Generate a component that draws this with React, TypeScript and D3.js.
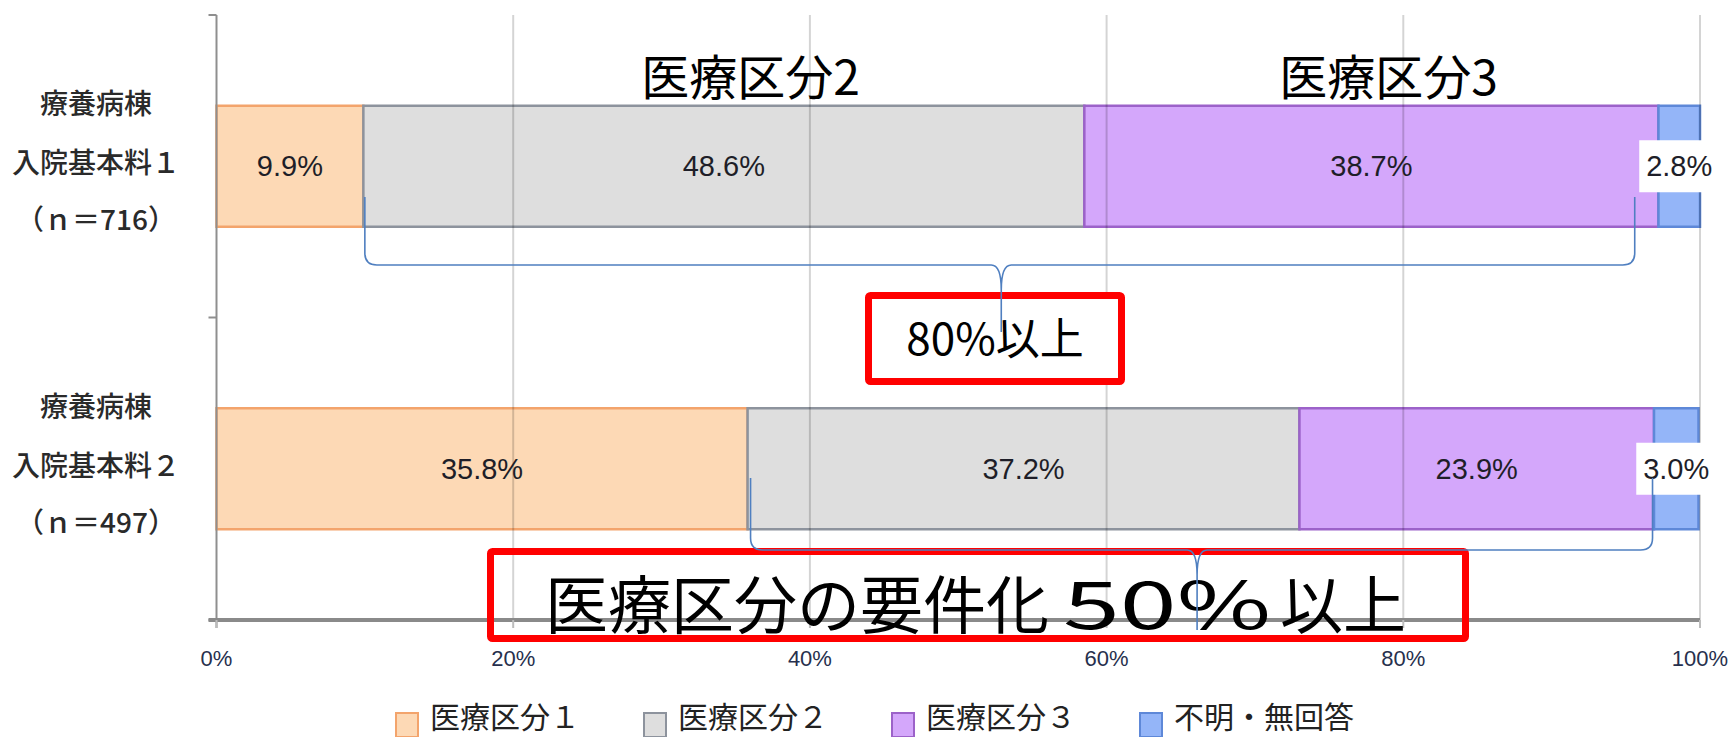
import React from "react";
import * as d3 from "d3";

const W = 1734;
const H = 737;
const MARGIN = { top: 15, right: 34, bottom: 117, left: 216.5 };

const CATEGORIES = ["row1", "row2"];
const CATEGORY_LINES = [
  ["療養病棟", "入院基本料１", "（ｎ＝716）"],
  ["療養病棟", "入院基本料２", "（ｎ＝497）"],
];
const SERIES = ["医療区分１", "医療区分２", "医療区分３", "不明・無回答"];
const VALUES = [
  [9.9, 48.6, 38.7, 2.8],
  [35.8, 37.2, 23.9, 3.0],
];
const X_TICKS = [0, 20, 40, 60, 80, 100];

const FILLS = ["#FDD9B5", "#DEDEDE", "#D4A7FB", "#94B5F8"];
const STROKES = ["#F3A46C", "#8D939D", "#9C62C9", "#5E88D8"];

// annotation positions, in percent along the x axis
const HEADERS = [
  { label: "医療区分2", at: 36 },
  { label: "医療区分3", at: 79 },
];
const BRACES = [
  { from: 10.0, to: 95.6, tip: 52.9, top: 197, mid: 265, end: 332 },
  { from: 36.0, to: 96.8, tip: 66.1, top: 478, mid: 550, end: 630 },
];

const JP = "'Noto Sans CJK JP', 'Noto Sans', sans-serif";
const NUM = "'Liberation Sans', Arial, sans-serif";

function bracePath(xl: number, xr: number, xm: number, yTop: number, yMid: number, yEnd: number) {
  const p = d3.path();
  const r = 12;
  const r2 = 10;
  p.moveTo(xl, yTop);
  p.lineTo(xl, yMid - r);
  p.quadraticCurveTo(xl, yMid, xl + r, yMid);
  p.lineTo(xm - r2, yMid);
  p.quadraticCurveTo(xm, yMid, xm, yMid + 25);
  p.lineTo(xm, yEnd);
  p.moveTo(xm, yMid + 25);
  p.quadraticCurveTo(xm, yMid, xm + r2, yMid);
  p.lineTo(xr - r, yMid);
  p.quadraticCurveTo(xr, yMid, xr, yMid - r);
  p.lineTo(xr, yTop);
  return p.toString();
}

export default function App() {
  const x0 = MARGIN.left;
  const x1 = W - MARGIN.right;
  const y0 = MARGIN.top;
  const y1 = H - MARGIN.bottom;

  const xScale = d3.scaleLinear().domain([0, 100]).range([x0, x1]);
  const yScale = d3
    .scaleBand()
    .domain(CATEGORIES)
    .range([y0, y1])
    .paddingInner(0.6)
    .paddingOuter(0.3);
  const bw = yScale.bandwidth();

  const stacked = VALUES.map((row) => {
    let acc = 0;
    return row.map((v) => {
      const s = acc;
      acc += v;
      return { start: s, end: acc, value: v };
    });
  });

  return (
    <svg
      width={W}
      height={H}
      style={{ position: "absolute", left: 0, top: 0, background: "#fff" }}
    >
      {/* bars */}
      {stacked.map((row, i) =>
        row.map((seg, j) => (
          <rect
            key={`b${i}-${j}`}
            x={xScale(seg.start)}
            y={yScale(CATEGORIES[i])}
            width={xScale(seg.end) - xScale(seg.start)}
            height={bw}
            fill={FILLS[j]}
            stroke={STROKES[j]}
            strokeWidth={2.5}
          />
        ))
      )}

      {/* gridlines */}
      {X_TICKS.slice(1).map((t) => (
        <line
          key={`g${t}`}
          x1={xScale(t)}
          x2={xScale(t)}
          y1={y0}
          y2={y1}
          stroke="#000"
          strokeOpacity={0.17}
          strokeWidth={2}
        />
      ))}

      {/* axes */}
      <line x1={x0} x2={x0} y1={y0} y2={y1 + 8} stroke="#8f8f8f" strokeWidth={2} />
      {[y0, y0 + yScale.step(), y1].map((y, i) => (
        <line key={`yt${i}`} x1={x0 - 8} x2={x0} y1={y} y2={y} stroke="#8f8f8f" strokeWidth={2} />
      ))}
      <line x1={x0 - 8} x2={x1} y1={y1} y2={y1} stroke="#8a8a8a" strokeWidth={4} />
      {X_TICKS.map((t) => (
        <g key={`xt${t}`}>
          <line x1={xScale(t)} x2={xScale(t)} y1={y1} y2={y1 + 8} stroke="#bcbcbc" strokeWidth={2} />
          <text
            x={xScale(t)}
            y={658}
            textAnchor="middle"
            dominantBaseline="central"
            fontFamily={NUM}
            fontSize={22}
            fill="#27304d"
          >
            {t}%
          </text>
        </g>
      ))}

      {/* category labels */}
      {CATEGORY_LINES.map((lines, i) => {
        const cy = (yScale(CATEGORIES[i]) as number) + bw / 2;
        return lines.map((ln, k) => (
          <text
            key={`c${i}-${k}`}
            x={96}
            y={cy + [-64, -5, 52][k]}
            textAnchor="middle"
            dominantBaseline="central"
            fontFamily={JP}
            fontSize={28}
            fontWeight={500}
            fill="#2a2a2a"
          >
            {ln}
          </text>
        ));
      })}

      {/* data labels */}
      {stacked.map((row, i) =>
        row.map((seg, j) => {
          const cx = (xScale(seg.start) + xScale(seg.end)) / 2;
          const cy = (yScale(CATEGORIES[i]) as number) + bw / 2;
          const last = j === row.length - 1;
          return (
            <g key={`l${i}-${j}`}>
              {last && <rect x={cx - 40} y={cy - 26} width={78} height={52} fill="#fff" />}
              <text
                x={cx}
                y={cy}
                textAnchor="middle"
                dominantBaseline="central"
                fontFamily={NUM}
                fontSize={29}
                fill="#1e1e28"
              >
                {seg.value.toFixed(1)}%
              </text>
            </g>
          );
        })
      )}

      {/* headers */}
      {HEADERS.map((h) => (
        <text
          key={h.label}
          x={xScale(h.at)}
          y={74}
          textAnchor="middle"
          dominantBaseline="central"
          fontFamily={JP}
          fontSize={48}
          fill="#000"
        >
          {h.label}
        </text>
      ))}

      {/* red boxes */}
      <rect x={868.5} y={295.5} width={253} height={86} rx={2} fill="#fff" stroke="#ff0000" strokeWidth={7} />
      <text x={995} y={336} textAnchor="middle" dominantBaseline="central" fontFamily={JP} fontSize={44} fill="#000">
        80%以上
      </text>
      <rect x={490.5} y={551.5} width={975} height={87} rx={2} fill="none" stroke="#ff0000" strokeWidth={7} />
      <text x={545} y={600} dominantBaseline="central" fontFamily={JP} fontSize={63} fill="#000">
        医療区分の要件化
      </text>
      <text
        x={1063}
        y={600}
        dominantBaseline="central"
        fontFamily={JP}
        fontSize={66}
        textLength={208}
        lengthAdjust="spacingAndGlyphs"
        fill="#000"
      >
        50%
      </text>
      <text x={1280} y={600} dominantBaseline="central" fontFamily={JP} fontSize={63} fill="#000">
        以上
      </text>

      {/* braces */}
      {BRACES.map((b, i) => (
        <path
          key={`br${i}`}
          d={bracePath(xScale(b.from), xScale(b.to), xScale(b.tip), b.top, b.mid, b.end)}
          fill="none"
          stroke="#4F7FC0"
          strokeWidth={1.6}
        />
      ))}

      {/* legend */}
      {SERIES.map((s, i) => {
        const lx = 396 + i * 248;
        return (
          <g key={`lg${i}`}>
            <rect x={lx} y={713} width={22} height={24} fill={FILLS[i]} stroke={STROKES[i]} strokeWidth={2} />
            <text x={lx + 34} y={715} dominantBaseline="central" fontFamily={JP} fontSize={30} fill="#222">
              {s}
            </text>
          </g>
        );
      })}
    </svg>
  );
}
